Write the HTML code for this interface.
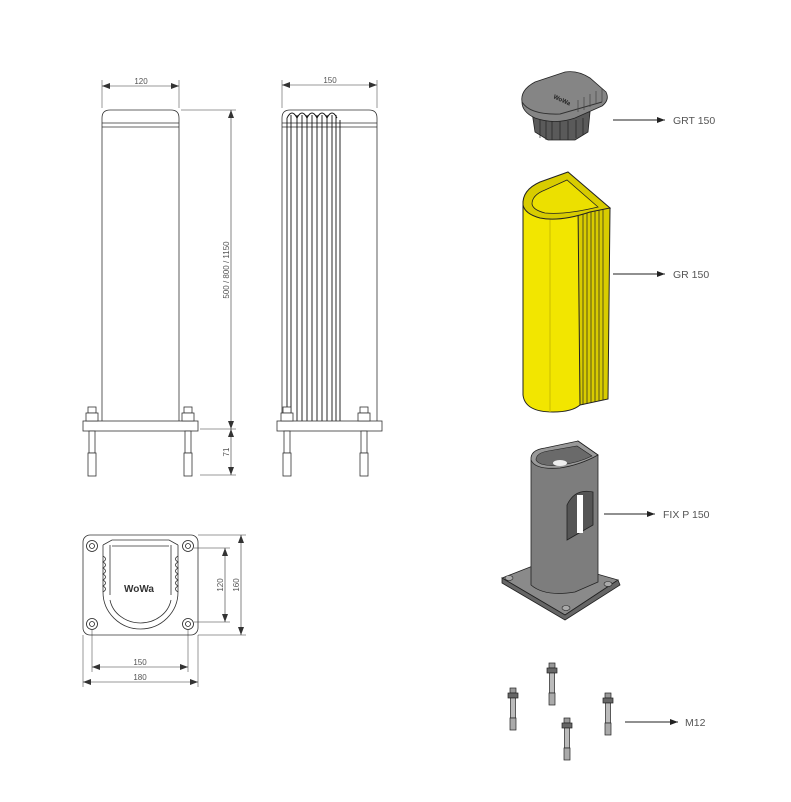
<!DOCTYPE html>
<html><head><meta charset="utf-8"><style>
html,body{margin:0;padding:0;background:#fff}
svg{display:block}
text{font-family:"Liberation Sans",sans-serif;fill:#555}
</style></head><body>
<svg width="791" height="802" viewBox="0 0 791 802" xmlns="http://www.w3.org/2000/svg">
<defs>
<marker id="a" markerWidth="8" markerHeight="6" refX="8" refY="3" orient="auto" markerUnits="userSpaceOnUse"><path d="M0,0 L8,3 L0,6z" fill="#222"/></marker>
<marker id="s" markerWidth="8" markerHeight="6" refX="8" refY="3" orient="auto-start-reverse" markerUnits="userSpaceOnUse"><path d="M0,0 L8,3 L0,6z" fill="#333"/></marker>
<g id="bolt"><rect x="-4" y="407" width="8" height="6" fill="#fff" stroke="#333" stroke-width="0.8"/><rect x="-6" y="413" width="12" height="8" fill="#fff" stroke="#333" stroke-width="0.8"/><rect x="-3" y="431" width="6" height="22" fill="#fff" stroke="#333" stroke-width="0.8"/><rect x="-4" y="453" width="8" height="23" fill="#fff" stroke="#333" stroke-width="0.8"/></g>
<g id="sb"><rect x="-3" y="0" width="6" height="5" fill="#999" stroke="#222" stroke-width="0.7"/><rect x="-5" y="5" width="10" height="5" fill="#666" stroke="#222" stroke-width="0.7"/><rect x="-2.5" y="10" width="5" height="20" fill="#bbb" stroke="#222" stroke-width="0.7"/><rect x="-3" y="30" width="6" height="12" fill="#aaa" stroke="#222" stroke-width="0.7"/></g>
</defs>
<g fill="none" stroke="#333" stroke-width="0.8">
<path d="M102,127 L102,118 Q102,110 110,110 L171,110 Q179,110 179,118 L179,127" />
<line x1="102" y1="123" x2="179" y2="123"/><line x1="102" y1="127" x2="179" y2="127"/>
<line x1="102" y1="127" x2="102" y2="421"/><line x1="179" y1="127" x2="179" y2="421"/>
<rect x="83" y="421" width="115" height="10" fill="#fff"/>
<line x1="102" y1="80" x2="102" y2="108" stroke-width="0.5"/><line x1="179" y1="80" x2="179" y2="108" stroke-width="0.5"/>
<line x1="102" y1="86" x2="179" y2="86" stroke-width="0.6" marker-start="url(#s)" marker-end="url(#s)"/>
<line x1="181" y1="110" x2="236" y2="110" stroke-width="0.5"/><line x1="200" y1="429" x2="236" y2="429" stroke-width="0.5"/><line x1="200" y1="475" x2="236" y2="475" stroke-width="0.5"/>
<line x1="231" y1="110" x2="231" y2="429" stroke-width="0.6" marker-start="url(#s)" marker-end="url(#s)"/>
<line x1="231" y1="429" x2="231" y2="475" stroke-width="0.6" marker-start="url(#s)" marker-end="url(#s)"/>
<path d="M282,127 L282,118 Q282,110 290,110 L369,110 Q377,110 377,118 L377,127"/>
<line x1="282" y1="123" x2="377" y2="123"/><line x1="282" y1="127" x2="377" y2="127"/>
<line x1="282" y1="127" x2="282" y2="421"/><line x1="377" y1="127" x2="377" y2="421"/>
<g stroke="#111" stroke-width="0.9">
<path d="M287,421V118M291,421V115M297,421V115M302,421V115M307,421V115M312,421V115M317,421V115M322,421V115M327,421V115M332,421V115M336,421V115M340,421V120"/>
<path d="M287,118 Q292,108 297,118 Q302,108 307,118 Q312,108 317,118 Q322,108 327,118 Q332,108 337,118"/>
</g>
<rect x="277" y="421" width="105" height="10" fill="#fff"/>
<line x1="282" y1="80" x2="282" y2="108" stroke-width="0.5"/><line x1="377" y1="80" x2="377" y2="108" stroke-width="0.5"/>
<line x1="282" y1="85" x2="377" y2="85" stroke-width="0.6" marker-start="url(#s)" marker-end="url(#s)"/>
<rect x="83" y="535" width="115" height="100" rx="7"/>
<path d="M103,545 L103,592 A37.5,37 0 0 0 178,592 L178,545"/>
<path d="M110,600 A31,28 0 0 0 171,600"/>
<path d="M110,545 L110,595 M171,545 L171,595 M112,546 L169,546 M103,545 L112,540 L169,540 L178,545"/>
<path d="M103,556 q5,3 0,6 q5,3 0,6 q5,3 0,6 q5,3 0,6 q5,3 0,6 q5,3 0,6 M178,556 q-5,3 0,6 q-5,3 0,6 q-5,3 0,6 q-5,3 0,6 q-5,3 0,6 q-5,3 0,6"/>
<g fill="#fff" stroke="#222"><circle cx="92" cy="546" r="5.5"/><circle cx="188" cy="546" r="5.5"/><circle cx="92" cy="624" r="5.5"/><circle cx="188" cy="624" r="5.5"/>
<circle cx="92" cy="546" r="2.5"/><circle cx="188" cy="546" r="2.5"/><circle cx="92" cy="624" r="2.5"/><circle cx="188" cy="624" r="2.5"/></g>
<line x1="198" y1="535" x2="246" y2="535" stroke-width="0.5"/><line x1="198" y1="635" x2="246" y2="635" stroke-width="0.5"/>
<line x1="194" y1="548" x2="230" y2="548" stroke-width="0.5"/><line x1="194" y1="622" x2="230" y2="622" stroke-width="0.5"/>
<line x1="225" y1="548" x2="225" y2="622" stroke-width="0.6" marker-start="url(#s)" marker-end="url(#s)"/>
<line x1="241" y1="535" x2="241" y2="635" stroke-width="0.6" marker-start="url(#s)" marker-end="url(#s)"/>
<line x1="92" y1="630" x2="92" y2="672" stroke-width="0.5"/><line x1="188" y1="630" x2="188" y2="672" stroke-width="0.5"/>
<line x1="83" y1="635" x2="83" y2="687" stroke-width="0.5"/><line x1="198" y1="635" x2="198" y2="687" stroke-width="0.5"/>
<line x1="92" y1="667" x2="188" y2="667" stroke-width="0.6" marker-start="url(#s)" marker-end="url(#s)"/>
<line x1="83" y1="682" x2="198" y2="682" stroke-width="0.6" marker-start="url(#s)" marker-end="url(#s)"/>
</g>
<use href="#bolt" x="92"/><use href="#bolt" x="188"/><use href="#bolt" x="287"/><use href="#bolt" x="364"/>
<text x="124" y="592" font-size="10" font-weight="bold" style="fill:#333">WoWa</text>
<g font-size="8">
<text x="141" y="84" text-anchor="middle">120</text>
<text x="330" y="83" text-anchor="middle">150</text>
<text transform="translate(229,270) rotate(-90)" text-anchor="middle">500 / 800 / 1150</text>
<text transform="translate(229,452) rotate(-90)" text-anchor="middle">71</text>
<text transform="translate(223,585) rotate(-90)" text-anchor="middle">120</text>
<text transform="translate(239,585) rotate(-90)" text-anchor="middle">160</text>
<text x="140" y="665" text-anchor="middle">150</text>
<text x="140" y="680" text-anchor="middle">180</text>
</g>
<!-- cap -->
<path d="M532,112 L535,132 L548,140 L575,140 L588,132 L590,112 Z" fill="#5a5a5a" stroke="#222" stroke-width="0.8"/>
<path d="M540,118V138M546,120V140M552,121V140M560,121V140M568,121V140M576,120V138M583,118V135" stroke="#222" stroke-width="0.7"/>
<path d="M522,102 Q520,90 535,82 L565,72 Q578,70 590,78 L606,92 Q610,100 602,106 L575,118 Q555,125 535,118 Q522,112 522,102Z" fill="#858585" stroke="#222" stroke-width="0.8"/>
<path d="M522,102 Q530,115 560,114 L602,102" fill="none" stroke="#333"/>
<path d="M578,112V100M584,110V97M590,107V94M596,104V91M602,102V89" stroke="#444" stroke-width="0.7"/>
<text x="553" y="98" font-size="6" font-weight="bold" style="fill:#222" transform="rotate(25 553 98)">WoWa</text>
<!-- yellow tube -->
<path d="M523,205 L523,395 Q525,412 553,412 Q572,412 580,405 L580,205 Z" fill="#f2e600" stroke="#222" stroke-width="1"/>
<line x1="550" y1="215" x2="550" y2="412" stroke="#c9bd00"/>
<path d="M578,205 L610,208 L608,399 L580,405 Z" fill="#d8cc00" stroke="#222" stroke-width="1"/>
<path d="M583,206V405M587,206V404M591,207V403M595,207V402M599,207V401M603,208V400" stroke="#222" stroke-width="0.7"/>
<path d="M523,205 Q522,190 540,182 L568,172 L610,208 L590,212 Q560,222 540,218 Q525,214 523,205Z" fill="#d8cc00" stroke="#222" stroke-width="1"/>
<path d="M532,204 Q532,195 545,190 L567,180 L598,207 Q565,215 545,213 Q533,210 532,204Z" fill="#ece000" stroke="#222" stroke-width="0.8"/>
<!-- fix p -->
<path d="M502,578 L548,560 L618,580 L565,615 Z" fill="#8a8a8a" stroke="#222" stroke-width="0.8"/>
<path d="M502,578 L502,583 L565,620 L620,585 L618,580 L565,615Z" fill="#666" stroke="#222" stroke-width="0.8"/>
<path d="M531,460 L531,585 Q545,597 575,592 L598,582 L598,455 L578,441 Z" fill="#7d7d7d" stroke="#222" stroke-width="0.8"/>
<path d="M531,460 Q530,450 545,448 L578,441 L598,455 Q580,465 560,468 Q535,470 531,460Z" fill="#999" stroke="#222" stroke-width="0.8"/>
<path d="M536,460 Q536,453 548,451 L577,446 L592,456 Q578,463 560,465 Q540,467 536,460Z" fill="#6a6a6a" stroke="#222" stroke-width="0.6"/>
<ellipse cx="560" cy="463" rx="7" ry="3" fill="#eee"/>
<path d="M567,540 L567,505 Q575,488 593,492 L593,525 Z" fill="#555" stroke="#222" stroke-width="0.8"/>
<rect x="577" y="495" width="6" height="38" fill="#fff"/>
<g fill="#aaa" stroke="#222" stroke-width="0.6"><ellipse cx="509" cy="578" rx="4" ry="2.5"/><ellipse cx="608" cy="584" rx="4" ry="2.5"/><ellipse cx="566" cy="608" rx="4" ry="2.5"/></g>
<use href="#sb" x="513" y="688"/><use href="#sb" x="552" y="663"/><use href="#sb" x="567" y="718"/><use href="#sb" x="608" y="693"/>
<g stroke="#222" stroke-width="0.9">
<line x1="613" y1="120" x2="665" y2="120" marker-end="url(#a)"/>
<line x1="613" y1="274" x2="665" y2="274" marker-end="url(#a)"/>
<line x1="604" y1="514" x2="655" y2="514" marker-end="url(#a)"/>
<line x1="625" y1="722" x2="678" y2="722" marker-end="url(#a)"/>
</g>
<g font-size="10.5">
<text x="673" y="124">GRT 150</text>
<text x="673" y="278">GR 150</text>
<text x="663" y="518">FIX P 150</text>
<text x="685" y="726">M12</text>
</g>
</svg>
</body></html>
